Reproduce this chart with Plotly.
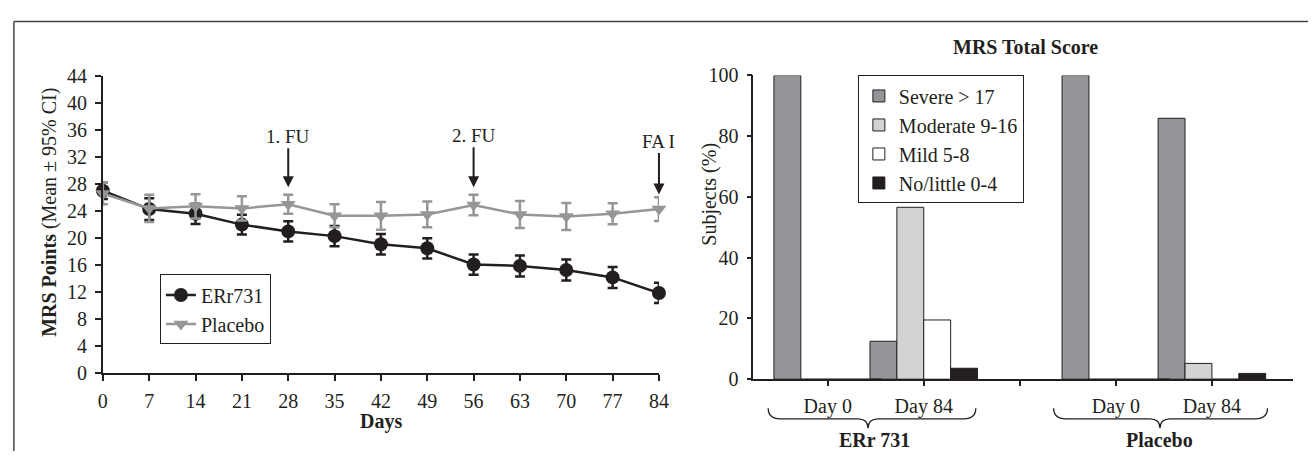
import plotly.graph_objects as go

# ---------------- data ----------------
days = [0, 7, 14, 21, 28, 35, 42, 49, 56, 63, 70, 77, 84]
err_mean = [27.0, 24.3, 23.6, 22.0, 21.0, 20.3, 19.1, 18.5, 16.1, 15.9, 15.3, 14.2, 11.9]
err_ci = [1.2, 1.6, 1.5, 1.45, 1.5, 1.5, 1.5, 1.5, 1.5, 1.55, 1.55, 1.55, 1.5]
plc_mean = [26.6, 24.4, 24.7, 24.4, 25.0, 23.3, 23.3, 23.5, 24.9, 23.5, 23.2, 23.6, 24.3]
plc_ci = [1.6, 2.0, 1.8, 1.8, 1.4, 1.7, 2.05, 1.9, 1.5, 2.0, 2.0, 1.55, 1.75]
series_names = ["ERr731", "Placebo"]
day_ticks = [0, 7, 14, 21, 28, 35, 42, 49, 56, 63, 70, 77, 84]
y_ticks_left = [0, 4, 8, 12, 16, 20, 24, 28, 32, 36, 40, 44]
events = ["1. FU", "2. FU", "FA I"]
event_days = [28, 56, 84]

bar_categories = ["ERr 731|Day 0", "ERr 731|Day 84", "gap", "Placebo|Day 0", "Placebo|Day 84"]
bar_ticktext = ["Day 0", "Day 84", "", "Day 0", "Day 84"]
severity_names = ["Severe > 17", "Moderate 9-16", "Mild 5-8", "No/little 0-4"]
severe = [100, 12.5, None, 100, 85.9]
moderate = [0, 56.6, None, 0, 5.2]
mild = [0, 19.5, None, 0, 0]
none_little = [0, 3.6, None, 0, 1.9]
severity_values = [severe, moderate, mild, none_little]
group_labels = ["ERr 731", "Placebo"]

# ---------------- layout helpers ----------------
W, H = 1316, 460
def px(x):
    return x / W
def py(y):
    return 1 - y / H

INK = "#231f20"
GRAY_LINE = "#969696"
FONT = "Liberation Serif"
bar_colors = ["#939598", "#d1d3d4", "#ffffff", "#231f20"]
bar_offsets = [-0.56, -0.28, 0.0, 0.28]
bar_width = 0.28

fig = go.Figure()

# left chart
fig.add_trace(go.Scatter(
    x=days, y=err_mean, name=series_names[0], mode="lines+markers",
    line=dict(color=INK, width=2.5),
    marker=dict(symbol="circle", size=14, color=INK),
    error_y=dict(type="data", array=err_ci, visible=True, color=INK, thickness=2.5, width=5),
    cliponaxis=False, xaxis="x", yaxis="y", legend="legend",
))
fig.add_trace(go.Scatter(
    x=days, y=plc_mean, name=series_names[1], mode="lines+markers",
    line=dict(color=GRAY_LINE, width=2.5),
    marker=dict(symbol="triangle-down", size=13, color=GRAY_LINE),
    error_y=dict(type="data", array=plc_ci, visible=True, color=GRAY_LINE, thickness=2.5, width=5),
    cliponaxis=False, xaxis="x", yaxis="y", legend="legend",
))

# right chart
for name, vals, col, off in zip(severity_names, severity_values, bar_colors, bar_offsets):
    fig.add_trace(go.Bar(
        x=bar_categories, y=vals, name=name, width=bar_width, offset=off,
        marker=dict(color=col, line=dict(color=INK, width=1)),
        xaxis="x2", yaxis="y2", legend="legend2",
    ))

axis_common = dict(
    showline=True, linecolor=INK, linewidth=1.5, ticks="outside", tickcolor=INK,
    tickwidth=1.5, showgrid=False, zeroline=False,
    tickfont=dict(family=FONT, size=20, color=INK),
)

def label(text, x, y, size=20, angle=0):
    return dict(text=text, textangle=angle, xref="paper", yref="paper",
                x=px(x), y=py(y), xanchor="center", yanchor="middle",
                showarrow=False, font=dict(family=FONT, size=size, color=INK))

annotations = [
    label("<b>MRS Points</b> (Mean ± 95% CI)", 45, 211.5, 20, -90),
    label("<b>Days</b>", 380, 431, 20),
    label("<b>MRS Total Score</b>", 1032, 38, 20),
    label("Subjects (%)", 713, 192, 20, -90),
]
group_x = [880, 1168]
for lab, gx in zip(group_labels, group_x):
    annotations.append(label("<b>%s</b>" % lab, gx, 451, 20))

# event arrows
tip_y = [185, 185, 192.7]
text_off = [-51, -52, -53.4]
for ev, d, ty, off in zip(events, event_days, tip_y, text_off):
    annotations.append(dict(
        text=ev, xref="x", yref="paper", x=d, y=py(ty), ax=0, ay=off,
        showarrow=True, arrowhead=2, arrowsize=1.1, arrowwidth=2, arrowcolor=INK,
        font=dict(family=FONT, size=19, color=INK),
    ))

def brace(x0, x1, xm, ytop=417.3, ymid=428.3, ytip=438.3):
    pts = [
        "M %f,%f" % (px(x0), py(ytop)),
        "Q %f,%f %f,%f" % (px(x0), py(ymid), px(x0 + 12), py(ymid)),
        "L %f,%f" % (px(xm - 10), py(ymid)),
        "Q %f,%f %f,%f" % (px(xm), py(ymid), px(xm), py(ytip)),
        "Q %f,%f %f,%f" % (px(xm), py(ymid), px(xm + 10), py(ymid)),
        "L %f,%f" % (px(x1 - 12), py(ymid)),
        "Q %f,%f %f,%f" % (px(x1), py(ymid), px(x1), py(ytop)),
    ]
    return " ".join(pts)

shapes = [
    dict(type="path", xref="paper", yref="paper", path=brace(772, 982, 873),
         line=dict(color=INK, width=1.3)),
    dict(type="path", xref="paper", yref="paper", path=brace(1060.7, 1277, 1168.3),
         line=dict(color=INK, width=1.3)),
    dict(type="line", xref="paper", yref="paper", x0=px(9), x1=px(9), y0=py(11), y1=py(462),
         line=dict(color="#444444", width=1.5)),
    dict(type="line", xref="paper", yref="paper", x0=px(9), x1=px(1318), y0=py(11), y1=py(11),
         line=dict(color="#444444", width=1.5)),
]

fig.update_layout(
    width=W, height=H, margin=dict(l=0, r=0, t=0, b=0),
    paper_bgcolor="white", plot_bgcolor="white",
    font=dict(family=FONT, color=INK),
    barmode="overlay",
    xaxis=dict(domain=[px(99), px(661.5)], range=[0, 84], tickvals=day_ticks,
               ticklen=6, ticklabelstandoff=3, anchor="y", **axis_common),
    yaxis=dict(domain=[py(380.7), py(68)], range=[0, 44], tickvals=y_ticks_left,
               ticklen=6, ticklabelstandoff=4, anchor="x", **axis_common),
    xaxis2=dict(domain=[px(757), px(1303)], type="category", categoryorder="array",
                categoryarray=bar_categories, tickvals=bar_categories, ticktext=bar_ticktext,
                range=[-0.774, 4.846], ticklen=5, ticklabelstandoff=3, anchor="y2", **axis_common),
    yaxis2=dict(domain=[py(386.7), py(67.7)], range=[0, 100], dtick=20,
                ticklen=5, ticklabelstandoff=4, anchor="x2", **axis_common),
    legend=dict(x=px(156.7), y=py(276.7), xanchor="left", yanchor="top",
                bordercolor=INK, borderwidth=1, bgcolor="white",
                font=dict(family=FONT, size=20, color=INK), tracegroupgap=0),
    legend2=dict(x=px(862.7), y=py(67.7), xanchor="left", yanchor="top",
                 bordercolor=INK, borderwidth=1, bgcolor="white",
                 font=dict(family=FONT, size=20, color=INK), tracegroupgap=0),
    annotations=annotations, shapes=shapes,
)

fig.write_html("out.html", config={"displayModeBar": False},
               post_script="document.body.style.margin='0';document.body.style.overflow='hidden';")
